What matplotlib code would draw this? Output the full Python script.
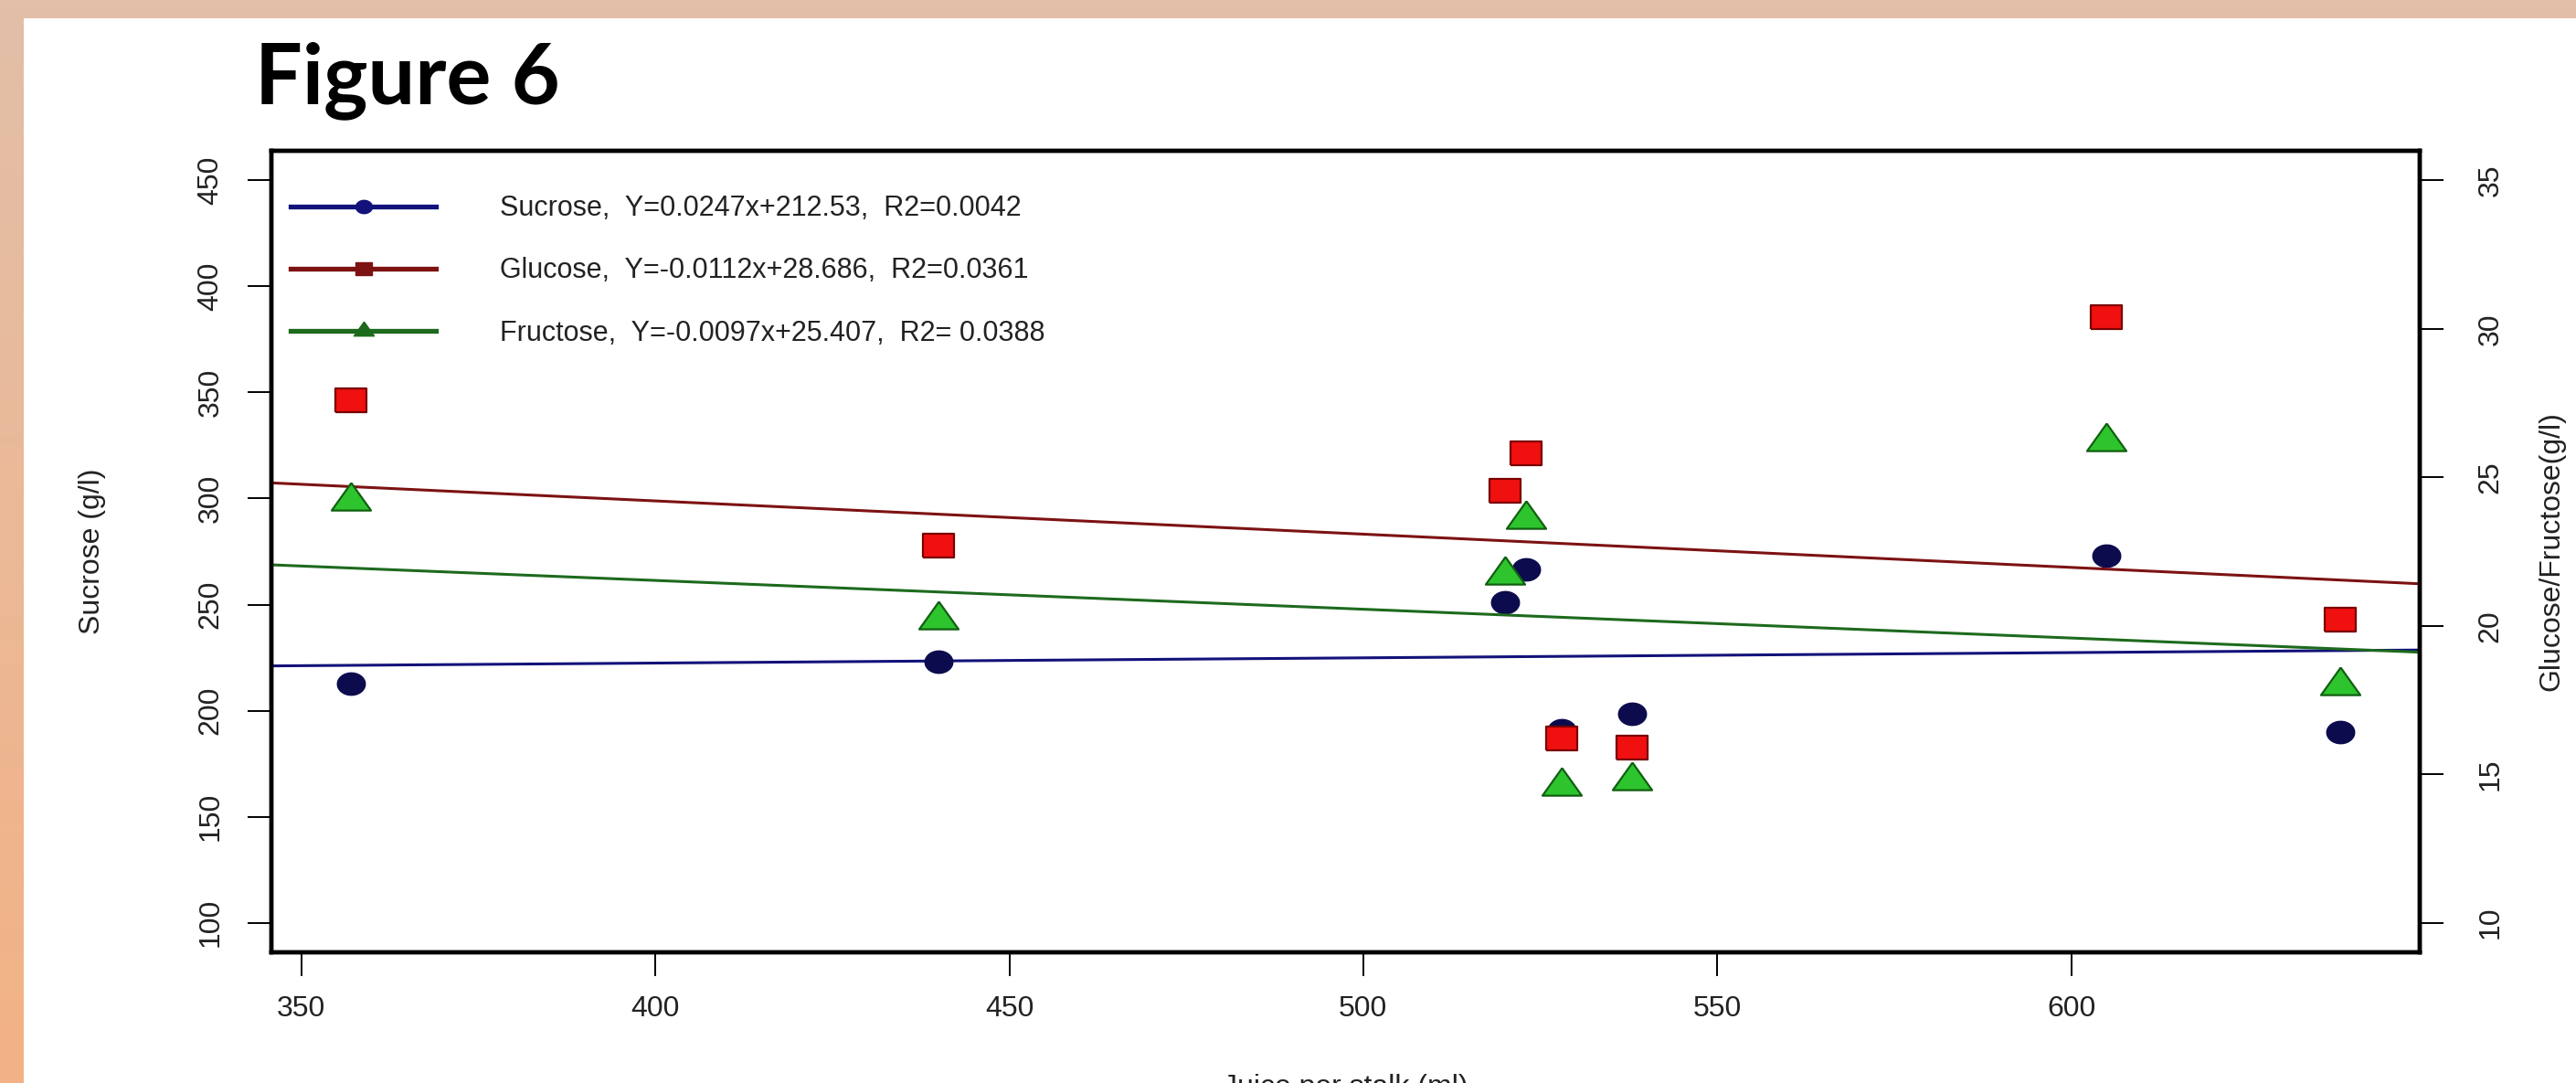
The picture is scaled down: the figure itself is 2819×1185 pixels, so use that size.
import numpy as np
import matplotlib
matplotlib.use('Agg')
import matplotlib.pyplot as plt
from matplotlib.lines import Line2D
from matplotlib.patches import Rectangle

# data
juice = [357, 440, 520, 523, 528, 538, 605, 638]
sucrose = [212.7, 223.2, 251.1, 266.6, 190.9, 198.7, 273.0, 190.0]
glucose = [27.6, 22.7, 24.55, 25.8, 16.2, 15.9, 30.4, 20.2]
fructose = [24.2, 20.2, 21.7, 23.6, 14.6, 14.8, 26.2, 18.0]

names = ['Sucrose', 'Glucose', 'Fructose']
slopes = [0.0247, -0.0112, -0.0097]
intercepts = [212.53, 28.686, 25.407]
r2 = ['0.0042', '0.0361', ' 0.0388']

x_ticks = [350, 400, 450, 500, 550, 600]
left_ticks = [100, 150, 200, 250, 300, 350, 400, 450]
right_ticks = [10, 15, 20, 25, 30, 35]

line_cols = ['#12127a', '#7d1212', '#1d6a1d']
fill_cols = ['#0b0b4d', '#f01010', '#2ec42e']

plt.rcParams['font.family'] = ['Liberation Sans', 'DejaVu Sans']

W, H = 2819, 1185
dpi = 100
fig = plt.figure(figsize=(W / dpi, H / dpi), dpi=dpi)

# peach frame behind the white page
bg = fig.add_axes([0, 0, 1, 1], zorder=-10)
grad = np.linspace(0, 1, 256).reshape(-1, 1)
top_c = np.array([226, 191, 168]) / 255
bot_c = np.array([243, 178, 133]) / 255
img = top_c + (bot_c - top_c) * grad[:, :, None]
bg.imshow(img, aspect='auto', extent=[0, 1, 0, 1], origin='upper')
bg.add_patch(Rectangle((26 / W, 0), 1, 1 - 20 / H, color='white', lw=0))
bg.set_xlim(0, 1)
bg.set_ylim(0, 1)
bg.axis('off')

fig.text(279 / W, 1 - 113 / H, 'Figure 6', family='Lato', weight='bold',
         fontsize=66, ha='left', va='baseline')

ax = fig.add_axes([297 / W, 1 - 1042 / H, 2351 / W, 877 / H])
ax2 = ax.twinx()

def r_lim(lo, hi):
    pad = 0.04 * (hi - lo)
    return lo - pad, hi + pad

ax.set_xlim(*r_lim(min(juice), max(juice)))
ax.set_ylim(*r_lim(100, 450))
ax2.set_ylim(*r_lim(10, 35))

# R style marker shapes (stretched wider like the picture)
t = np.linspace(0, 2 * np.pi, 40)
dot = np.column_stack([np.cos(t), 0.8 * np.sin(t)])
square = [(-1, -0.76), (1, -0.76), (1, 0.76), (-1, 0.76), (-1, -0.76)]
tri = [(0, 0.93), (1, -0.47), (-1, -0.47), (0, 0.93)]

ax.plot(juice, sucrose, ls='none', marker=dot, ms=22, mfc=fill_cols[0],
        mec=fill_cols[0], zorder=3)
ax2.plot(juice, glucose, ls='none', marker=square, ms=24, mfc=fill_cols[1],
         mec='#7a0000', mew=1.6, zorder=3)
ax2.plot(juice, fructose, ls='none', marker=tri, ms=31, mfc=fill_cols[2],
         mec='#106010', mew=1.6, zorder=4)

xl = np.array(ax.get_xlim())
ax.plot(xl, slopes[0] * xl + intercepts[0], color=line_cols[0], lw=2.2, zorder=2)
ax2.plot(xl, slopes[1] * xl + intercepts[1], color=line_cols[1], lw=2.2, zorder=2)
ax2.plot(xl, slopes[2] * xl + intercepts[2], color=line_cols[2], lw=2.2, zorder=2)

handles = []
leg_markers = [(dot, 13), (square, 13), (tri, 16)]
for i in range(3):
    m, s = leg_markers[i]
    handles.append(Line2D([], [], color=line_cols[i], lw=3.8, marker=m, ms=s,
                          mfc=line_cols[i], mec=line_cols[i]))
labels = [f'{names[i]},  Y={slopes[i]}x+{intercepts[i]},  R2={r2[i]}' for i in range(3)]
ax2.legend(handles, labels, loc='upper left', bbox_to_anchor=(0.009, 0.945),
           frameon=False, fontsize=22, handlelength=5.2, handletextpad=2.3,
           labelspacing=1.25, borderaxespad=0, borderpad=0, numpoints=1,
           labelcolor='#222222')

ax.set_xticks(x_ticks)
ax.set_yticks(left_ticks)
ax2.set_yticks(right_ticks)
for a in (ax, ax2):
    a.tick_params(direction='out', length=19, width=1.4, labelsize=23,
                  labelcolor='#222222')
    for sp in a.spines.values():
        sp.set_linewidth(3.2)
ax.tick_params(axis='x', pad=15)
ax.tick_params(axis='y', labelrotation=90, pad=18)
ax2.tick_params(axis='y', labelrotation=90, pad=26)
for lab in ax.get_yticklabels() + ax2.get_yticklabels():
    lab.set_va('center')

ax.set_xlabel('Juice per stalk (ml)', fontsize=23, color='#222222')
ax.xaxis.set_label_coords(0.5, -0.152)
ax.set_ylabel('Sucrose (g/l)', fontsize=23, color='#222222')
ax.yaxis.set_label_coords(-0.077, 0.5)
ax2.set_ylabel('Glucose/Fructose(g/l)', fontsize=23, color='#222222')
ax2.yaxis.set_label_coords(1.055, 0.5)

fig.savefig('out.png', dpi=dpi)
